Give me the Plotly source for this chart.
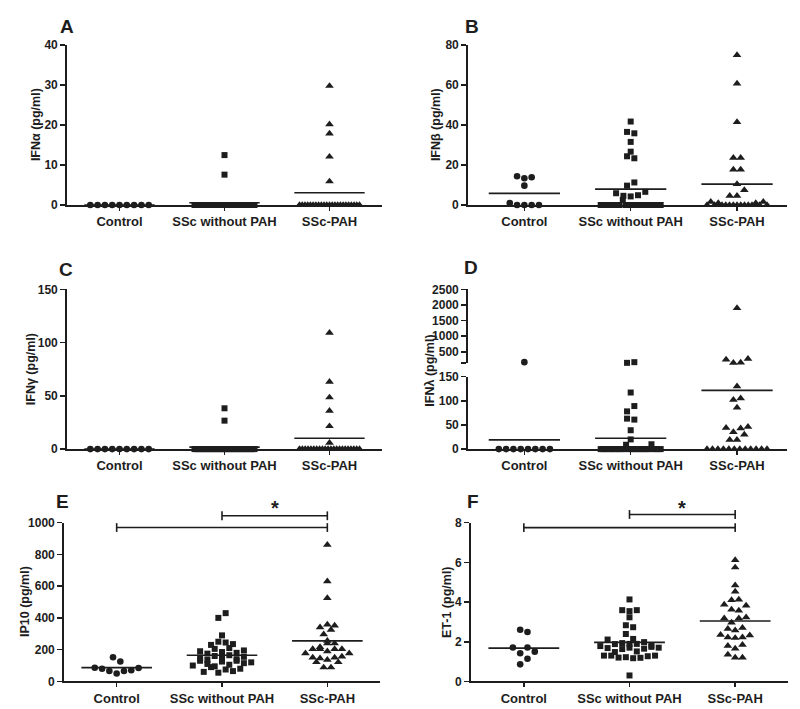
import plotly.graph_objects as go

W, H = 800, 709

groups = ["Control", "SSc without PAH", "SSc-PAH"]

# ---------------- A: IFN-alpha (pg/ml)
ifna_control = [0, 0, 0, 0, 0, 0, 0, 0, 0]
ifna_ssc = [12.5, 7.6,
            0, 0, 0, 0, 0, 0, 0, 0, 0, 0,
            0, 0, 0, 0, 0, 0, 0, 0, 0, 0,
            0, 0, 0, 0, 0, 0, 0, 0, 0, 0,
            0, 0, 0, 0]
ifna_pah = [29.8, 20.2, 17.9, 12.1, 5.9,
            0, 0, 0, 0, 0, 0, 0, 0, 0, 0,
            0, 0, 0, 0, 0, 0, 0, 0, 0, 0,
            0, 0, 0]

# ---------------- B: IFN-beta (pg/ml)
ifnb_control = [1.0, 0, 0, 0, 0, 9.7, 14.4, 13.4, 13.9]
ifnb_ssc = [0, 0, 0, 0, 0, 0, 0, 2.6, 0, 0, 0, 0, 0, 0, 0, 0, 0, 0, 0, 0,
            5.9, 4.6, 4.3, 4.9, 6.6, 9.7, 11.3, 24.4, 23.4, 26.7, 31.6,
            36.6, 35.9, 41.8]
ifnb_pah = [0, 1.6, 0, 1.0, 0, 0, 0, 0, 0, 0, 0, 0, 0, 1.0, 0, 1.6, 0,
            4.6, 4.6, 7.5, 10.5, 17.7, 17.7, 23.6, 23.6, 41.5, 60.8, 75.1]

# ---------------- C: IFN-gamma (pg/ml)
ifng_control = [0, 0, 0, 0, 0, 0, 0, 0, 0]
ifng_ssc = [38.3, 26.7,
            0, 0, 0, 0, 0, 0, 0, 0, 0, 0,
            0, 0, 0, 0, 0, 0, 0, 0, 0, 0,
            0, 0, 0, 0, 0, 0, 0, 0, 0, 0,
            0, 0, 0, 0]
ifng_pah = [109.2, 63.2, 48.5, 35.9, 21.5, 5.8,
            0, 0, 0, 0, 0, 0, 0, 0, 0, 0,
            0, 0, 0, 0, 0, 0, 0, 0, 0, 0,
            0, 0]

# ---------------- D: IFN-lambda (pg/ml), broken axis
ifnl_control = [0, 0, 0, 0, 0, 0, 0, 0, 171]
ifnl_ssc = [0, 0, 0, 0, 0, 0, 0, 0, 0, 0, 0, 9, 0, 0, 0, 0, 0, 0, 0, 0, 0, 0,
            10, 0, 0, 0, 0,
            20, 39, 63, 61, 78, 89, 117, 150, 171]
ifnl_pah = [0, 0, 0, 0, 0, 0, 0, 0, 0, 0, 0, 0,
            19, 19, 30, 44, 35, 43, 46, 86, 102, 105, 130,
            254, 150, 160, 275, 1900]

# ---------------- E: IP10 (pg/ml)
ip10_control = [86, 80, 66, 50, 66, 70, 84, 152, 125]
ip10_ssc = [60, 90, 55, 75, 65, 80,
            100, 130, 110, 95, 125, 105, 130, 115, 120,
            150, 135, 160, 145, 165, 140, 155,
            190, 175, 205, 185, 210, 180, 195,
            230, 250, 245, 235,
            290, 400, 430]
ip10_pah = [121, 88, 88, 121, 150, 146, 136, 150, 156,
            177, 204, 204, 189, 204, 204, 177, 216, 239, 239, 255, 296,
            340, 358, 352, 325, 525, 630, 860]

# ---------------- F: ET-1 (pg/ml)
et1_control = [0.86, 1.14, 1.71, 1.42, 1.71, 1.50, 2.60, 2.49]
et1_ssc = [0.30,
           1.30, 1.30, 1.20, 1.22, 1.17, 1.19, 1.27, 1.30,
           1.78, 1.68, 1.48, 1.63, 1.70, 1.51, 1.65, 1.74, 1.70,
           2.11, 1.88, 1.93, 1.89, 1.89, 1.98, 1.81,
           2.39, 2.14, 2.83, 2.73, 3.23, 3.59, 3.54, 3.59, 4.13]
et1_pah = [1.35, 1.20, 1.20, 1.79, 1.65, 1.84, 2.35, 2.22, 2.19, 2.22, 2.32,
           2.65, 2.57, 2.70, 3.18, 2.96, 3.18, 3.23, 3.87, 3.62, 3.57, 3.82,
           4.10, 4.12, 4.84, 4.53, 5.74, 6.11]

# ---------------- styling
INK = "#1d1d1d"
FONT = "Liberation Sans, Arial, Helvetica, sans-serif"
SYMBOLS = ["circle", "square", "triangle-up"]
MSIZE = [6.6, 6.0, 7.6]
STEP_PX = 7.3
MAXSPAN_PX = 60
ROW_PX = 6.2
MEAN_HALF = 0.335


def fx(px):
    return px / W


def fy(py):
    return 1 - py / H


def swarm(vals, to_px, x_ppu):
    order = sorted(range(len(vals)), key=lambda i: vals[i])
    rows, cur, start = [], [], None
    for i in order:
        p = to_px(vals[i])
        if cur and p - start < ROW_PX:
            cur.append(i)
        else:
            if cur:
                rows.append(cur)
            cur, start = [i], p
    if cur:
        rows.append(cur)
    off = [0.0] * len(vals)
    for r in rows:
        r = sorted(r)
        k = len(r)
        sp = STEP_PX if k < 2 else min(STEP_PX, MAXSPAN_PX / (k - 1))
        for j, i in enumerate(r):
            off[i] = (j - (k - 1) / 2) * sp / x_ppu
    return off


panels = [
    dict(n=1, letter="A", data=[ifna_control, ifna_ssc, ifna_pah],
         xdom=(67, 382), ydom=(39, 202), xr=(-0.5, 2.5), yr=(0, 40), step=10,
         title="IFNα (pg/ml)", tx=36, lx=58, ly=20),
    dict(n=2, letter="B", data=[ifnb_control, ifnb_ssc, ifnb_pah],
         xdom=(468, 787), ydom=(39, 202), xr=(-0.53, 2.47), yr=(0, 80), step=20,
         title="IFNβ (pg/ml)", tx=436, lx=463, ly=20),
    dict(n=3, letter="C", data=[ifng_control, ifng_ssc, ifng_pah],
         xdom=(67, 382), ydom=(288, 451), xr=(-0.5, 2.5), yr=(0, 150), step=50,
         title="IFNγ (pg/ml)", tx=31, lx=57, ly=267.5),
    dict(n=4, letter="D", data=[ifnl_control, ifnl_ssc, ifnl_pah],
         xdom=(468, 787), ydom=(377, 451), xr=(-0.53, 2.47), yr=(0, 150), step=50,
         upper=dict(ydom=(288, 363), yr=(150, 2500), ticks=[150, 500, 1000, 1500, 2000, 2500]),
         title="IFNλ (pg/ml)", tx=430, ty=371, lx=462, ly=265.5),
    dict(n=5, letter="E", data=[ip10_control, ip10_ssc, ip10_pah],
         xdom=(64, 380), ydom=(526, 688), xr=(-0.5, 2.5), yr=(0, 1000), step=200,
         title="IP10 (pg/ml)", tx=25, lx=54, ly=504.5,
         brackets=[(1, 2, 1043), (0, 2, 969)], star=1093),
    dict(n=6, letter="F", data=[et1_control, et1_ssc, et1_pah],
         xdom=(471, 788), ydom=(526, 688), xr=(-0.5, 2.5), yr=(0, 8), step=2,
         title="ET-1 (pg/ml)", tx=447, lx=465, ly=504.5,
         brackets=[(1, 2, 8.41), (0, 2, 7.75)], star=8.74),
]

fig = go.Figure()
layout = dict(width=W, height=H, margin=dict(l=0, r=0, t=0, b=0),
              paper_bgcolor="white", plot_bgcolor="white", showlegend=False)
annotations = []
shapes = []


def yaxis_cfg(dom, rng, tickvals, anchor, ticktext=None):
    cfg = dict(domain=[fy(dom[1]), fy(dom[0])], range=list(rng), anchor=anchor,
               showline=True, linecolor=INK, linewidth=1.8, ticks="outside",
               ticklen=5, tickwidth=1.6, tickcolor=INK, tickvals=tickvals,
               tickfont=dict(family=FONT, size=12, color=INK, weight="bold"),
               showgrid=False, zeroline=False, fixedrange=True)
    if ticktext is not None:
        cfg["ticktext"] = ticktext
    return cfg


for p in panels:
    n = p["n"]
    sx = "" if n == 1 else str(n)
    xid, yid = "x" + sx, "y" + sx
    y0, y1 = p["yr"]
    tickvals = list(range(y0, y1 + 1, p["step"]))
    layout["xaxis" + sx] = dict(
        domain=[fx(p["xdom"][0]), fx(p["xdom"][1])], range=list(p["xr"]), anchor=yid,
        showline=True, linecolor=INK, linewidth=1.8, ticks="outside", ticklen=4,
        tickwidth=1.6, tickcolor=INK, tickvals=[0, 1, 2], ticktext=groups,
        tickfont=dict(family=FONT, size=13, color=INK, weight="bold"),
        showgrid=False, zeroline=False, fixedrange=True)
    layout["yaxis" + sx] = yaxis_cfg(p["ydom"], p["yr"], tickvals, xid)

    x_ppu = (p["xdom"][1] - p["xdom"][0]) / (p["xr"][1] - p["xr"][0])
    low_h = p["ydom"][1] - p["ydom"][0]
    up = p.get("upper")
    if up:
        ut = up["ticks"]
        layout["yaxis7"] = yaxis_cfg(up["ydom"], up["yr"], ut, xid,
                                     [""] + [str(t) for t in ut[1:]])
        up_h = up["ydom"][1] - up["ydom"][0]
        gap = p["ydom"][0] - up["ydom"][1]
        brk = up["yr"][0]

        def to_px(v, low_h=low_h, up_h=up_h, gap=gap, brk=brk, up=up, base=p["yr"][0]):
            if v < brk:
                return (v - base) * low_h / (brk - base)
            return low_h + gap + (v - brk) * up_h / (up["yr"][1] - up["yr"][0])
    else:
        def to_px(v, low_h=low_h, y0=y0, y1=y1):
            return (v - y0) * low_h / (y1 - y0)

    for g, vals in enumerate(p["data"]):
        off = swarm(vals, to_px, x_ppu)
        xs = [g + o for o in off]
        mk = dict(symbol=SYMBOLS[g], size=MSIZE[g], color=INK, line=dict(width=0))
        if up:
            lo = [i for i, v in enumerate(vals) if v < up["yr"][0]]
            hi = [i for i, v in enumerate(vals) if v >= up["yr"][0]]
            for idx, ax in ((lo, yid), (hi, "y7")):
                if idx:
                    fig.add_trace(go.Scatter(x=[xs[i] for i in idx], y=[vals[i] for i in idx],
                                             mode="markers", marker=mk, xaxis=xid, yaxis=ax,
                                             cliponaxis=False, hoverinfo="y"))
        else:
            fig.add_trace(go.Scatter(x=xs, y=vals, mode="markers", marker=mk,
                                     xaxis=xid, yaxis=yid, cliponaxis=False, hoverinfo="y"))
        m = sum(vals) / len(vals)
        fig.add_trace(go.Scatter(x=[g - MEAN_HALF, g + MEAN_HALF], y=[m, m], mode="lines",
                                 line=dict(color=INK, width=1.6), xaxis=xid, yaxis=yid,
                                 hoverinfo="skip"))

    # panel letter
    annotations.append(dict(text=p["letter"], xref="paper", yref="paper",
                            x=fx(p["lx"]), y=fy(p["ly"]), xanchor="left", yanchor="middle",
                            showarrow=False,
                            font=dict(family=FONT, size=19, color=INK, weight="bold")))
    # y title
    ty = p.get("ty", (p["ydom"][0] + p["ydom"][1]) / 2)
    annotations.append(dict(text=p["title"], xref="paper", yref="paper", textangle=-90,
                            x=fx(p["tx"]), y=fy(ty), xanchor="center", yanchor="middle",
                            showarrow=False,
                            font=dict(family=FONT, size=12.5, color=INK, weight="bold")))
    # significance brackets
    if "brackets" in p:
        xr0, xr1 = p["xr"]
        cap = 4.5 / (p["ydom"][1] - p["ydom"][0])
        lstyle = dict(color=INK, width=1.6)
        for a, b, lev in p["brackets"]:
            xa = (a - xr0) / (xr1 - xr0)
            xb = (b - xr0) / (xr1 - xr0)
            yl = (lev - y0) / (y1 - y0)
            ref = dict(xref=xid + " domain", yref=yid + " domain", line=lstyle, type="line")
            shapes.append(dict(x0=xa, x1=xb, y0=yl, y1=yl, **ref))
            shapes.append(dict(x0=xa, x1=xa, y0=yl - cap, y1=yl + cap, **ref))
            shapes.append(dict(x0=xb, x1=xb, y0=yl - cap, y1=yl + cap, **ref))
        annotations.append(dict(text="*", xref=xid + " domain", yref=yid + " domain",
                                x=(1.5 - xr0) / (xr1 - xr0),
                                y=(p["star"] - y0) / (y1 - y0),
                                xanchor="center", yanchor="middle", showarrow=False,
                                font=dict(family=FONT, size=20, color=INK, weight="bold")))

layout["annotations"] = annotations
layout["shapes"] = shapes
fig.update_layout(**layout)

PAGE_JS = ("var s=[document.documentElement,document.body];"
           "for(var i=0;i<s.length;i++){s[i].style.margin='0';s[i].style.padding='0';"
           "s[i].style.overflow='hidden';}")
fig.write_html("out.html", config={"displayModeBar": False, "staticPlot": True},
               post_script=PAGE_JS)
